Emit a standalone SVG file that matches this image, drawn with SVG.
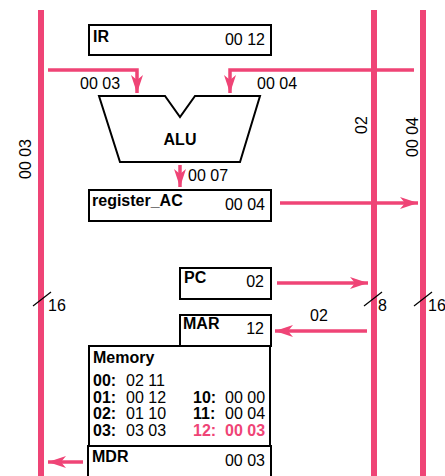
<svg xmlns="http://www.w3.org/2000/svg" width="445" height="476" viewBox="0 0 445 476">
<defs>
<style>
text{font-family:"Liberation Sans",Arial,sans-serif;font-size:16px;fill:#000}
.b{font-weight:bold}
.r{text-anchor:end}
.box{fill:#fff;stroke:#000;stroke-width:2}
.bus{stroke:#ef4476;stroke-width:6;fill:none}
.wire{stroke:#ef4476;stroke-width:3.5;fill:none}
.slash{stroke:#000;stroke-width:1.2}
.pink{fill:#ef4476;font-weight:bold}
</style>
<marker id="ah" markerUnits="userSpaceOnUse" markerWidth="20" markerHeight="14" viewBox="0 0 20 14" refX="18" refY="7" orient="auto">
<path d="M0,1 L18,7 L0,13 L5,7 z" fill="#ef4476"/>
</marker>
</defs>
<g id="buses">
<line class="bus" x1="41" y1="10" x2="41" y2="476"/>
<line class="bus" x1="374" y1="10" x2="374" y2="476"/>
<line class="bus" x1="423" y1="10" x2="423" y2="476"/>
<line class="slash" x1="33" y1="306" x2="51" y2="292"/>
<line class="slash" x1="364" y1="306" x2="382" y2="292"/>
<line class="slash" x1="414" y1="306" x2="432" y2="292"/>
<text x="48" y="311">16</text>
<text x="378" y="311">8</text>
<text x="428" y="311">16</text>
<text transform="translate(31,159) rotate(-90)" text-anchor="middle">00 03</text>
<text transform="translate(367,125) rotate(-90)" text-anchor="middle">02</text>
<text transform="translate(418,137) rotate(-90)" text-anchor="middle">00 04</text>
</g>
<g id="connectors">
<path class="wire" d="M48,70 H137 V93" marker-end="url(#ah)"/>
<path class="wire" d="M414,70 H230 V93" marker-end="url(#ah)"/>
<path class="wire" d="M180,165 V187" marker-end="url(#ah)"/>
<path class="wire" d="M280,203 H418" marker-end="url(#ah)"/>
<path class="wire" d="M277,283 H368" marker-end="url(#ah)"/>
<path class="wire" d="M367,331 H275" marker-end="url(#ah)"/>
<path class="wire" d="M83,462 H48" marker-end="url(#ah)"/>
<text x="80" y="89">00 03</text>
<text x="257" y="89">00 04</text>
<text x="188" y="181">00 07</text>
<text x="310" y="321">02</text>
</g>
<g id="IR">
<rect class="box" x="89" y="25" width="182" height="30"/>
<text class="b" x="93" y="42">IR</text>
<text class="r" x="265" y="45">00 12</text>
</g>
<g id="ALU">
<path class="box" d="M99,96 H165 L180,117 L195,96 H260 L240,162 H120 Z"/>
<text class="b" x="180" y="145" text-anchor="middle">ALU</text>
</g>
<g id="register_AC">
<rect class="box" x="89" y="190" width="182" height="31"/>
<text class="b" x="92" y="206">register_AC</text>
<text class="r" x="265" y="210">00 04</text>
</g>
<g id="PC">
<rect class="box" x="180" y="268" width="91" height="31"/>
<text class="b" x="184" y="283">PC</text>
<text class="r" x="264" y="287">02</text>
</g>
<g id="MAR">
<rect class="box" x="180" y="315" width="91" height="31"/>
<text class="b" x="183" y="329">MAR</text>
<text class="r" x="264" y="334">12</text>
</g>
<g id="Memory">
<rect class="box" x="89" y="346" width="181" height="100"/>
<text class="b" x="93" y="363">Memory</text>
<text class="b" x="93" y="386">00:</text><text x="126" y="386">02 11</text>
<text class="b" x="93" y="403">01:</text><text x="126" y="403">00 12</text>
<text class="b" x="93" y="419">02:</text><text x="126" y="419">01 10</text>
<text class="b" x="93" y="436">03:</text><text x="126" y="436">03 03</text>
<text class="b" x="193" y="403">10:</text><text x="225" y="403">00 00</text>
<text class="b" x="193" y="419">11:</text><text x="225" y="419">00 04</text>
<text class="pink" x="193" y="436">12:</text><text class="pink" x="225" y="436">00 03</text>
</g>
<g id="MDR">
<rect class="box" x="88" y="446" width="183" height="40"/>
<text class="b" x="92" y="462">MDR</text>
<text class="r" x="265" y="466">00 03</text>
</g>
</svg>
